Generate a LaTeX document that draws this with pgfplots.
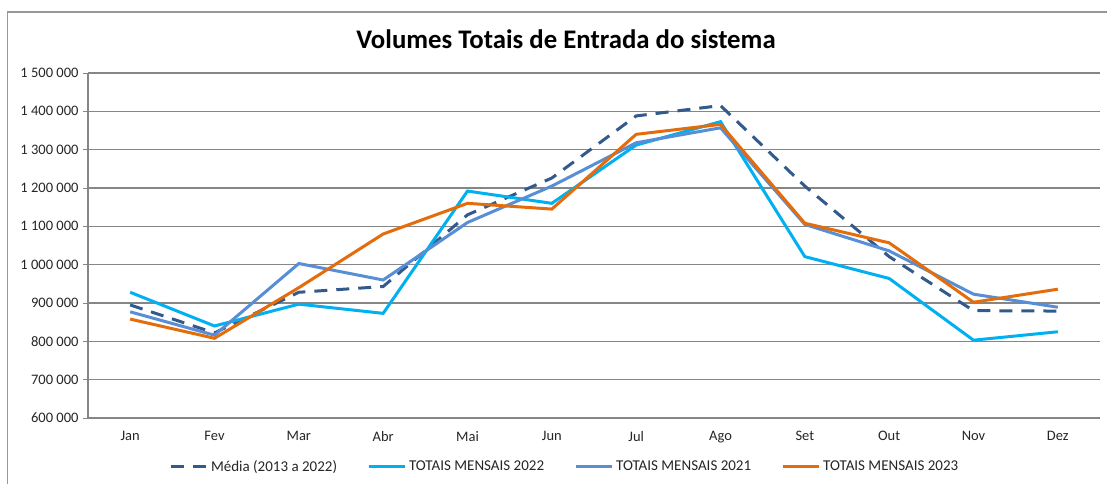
\documentclass[border=0pt]{standalone}
\usepackage{pgfplots}
\pgfplotsset{compat=1.18}
\usepackage{fontspec}
\setmainfont{Carlito}
\definecolor{cmedia}{RGB}{50,90,140}
\definecolor{c2022}{RGB}{0,176,240}
\definecolor{c2021}{RGB}{88,142,213}
\definecolor{c2023}{RGB}{228,108,10}
\definecolor{cgrid}{RGB}{134,134,134}
\begin{document}
\begin{tikzpicture}[x=1pt,y=1pt]
\useasboundingbox (0,0) rectangle (1107,483);
\fill[white] (0,0) rectangle (1107,483);
\draw[cgrid!85, line width=1.3pt] (7.5,-10) -- (7.5,471) -- (1120,471);
\node[font=\fontsize{26.8}{30}\selectfont\bfseries] at (566,444) {Volumes Totais de Entrada do sistema};
\begin{axis}[
  at={(88pt,65pt)}, anchor=south west,
  scale only axis, width=1012pt, height=345pt,
  xmin=-0.5, xmax=11.5, ymin=600000, ymax=1500000,
  axis x line*=bottom, axis y line*=left,
  axis line style={cgrid, line width=1.2pt},
  xtick={0,...,11},
  xticklabels={Jan,Fev,Mar,Abr,Mai,Jun,Jul,Ago,Set,Out,Nov,Dez},
  minor xtick={-0.5,0.5,...,11.5},
  xtick style={draw=none},
  minor x tick style={cgrid, line width=1pt},
  minor tick length=5pt,
  ytick={600000,700000,...,1500000},
  ytick style={cgrid, line width=1pt},
  major tick length=5pt,
  tick align=outside,
  ymajorgrids, grid style={cgrid, line width=1.3pt},
  scaled y ticks=false,
  yticklabel style={/pgf/number format/fixed, /pgf/number format/1000 sep={\ }, /pgf/number format/assume math mode=true, xshift=-1pt},
  ticklabel style={font=\fontsize{14.5}{16}\selectfont, text=black!85},
  xticklabel style={yshift=-5pt},
  legend columns=4,
  legend style={draw=none, fill=none, at={(0.471,-0.14)}, anchor=center,
    font=\fontsize{15}{17}\selectfont, text=black!85,
    /tikz/every even column/.append style={column sep=28pt},
    /tikz/every odd column/.append style={column sep=1pt}},
  legend image code/.code={\draw[#1] (0pt,0pt) -- (36pt,0pt);},
]
\addplot[cmedia, line width=3pt, dash pattern=on 13pt off 9pt] coordinates {
(0,895000) (1,822000) (2,928000) (3,943000) (4,1130000) (5,1226000)
(6,1388000) (7,1415000) (8,1205000) (9,1021000) (10,880000) (11,879000)};
\addlegendentry{Média (2013 a 2022)}
\addplot[c2022, line width=3pt] coordinates {
(0,928000) (1,840000) (2,897000) (3,873000) (4,1192000) (5,1160000)
(6,1312000) (7,1373000) (8,1021000) (9,964000) (10,803000) (11,825000)};
\addlegendentry{TOTAIS MENSAIS 2022}
\addplot[c2021, line width=3pt] coordinates {
(0,877000) (1,816000) (2,1003000) (3,960000) (4,1110000) (5,1205000)
(6,1318000) (7,1357000) (8,1105000) (9,1036000) (10,923000) (11,889000)};
\addlegendentry{TOTAIS MENSAIS 2021}
\addplot[c2023, line width=3pt] coordinates {
(0,858000) (1,808000) (2,940000) (3,1080000) (4,1160000) (5,1145000)
(6,1340000) (7,1366000) (8,1108000) (9,1057000) (10,902000) (11,936000)};
\addlegendentry{TOTAIS MENSAIS 2023}
\end{axis}
\end{tikzpicture}
\end{document}
